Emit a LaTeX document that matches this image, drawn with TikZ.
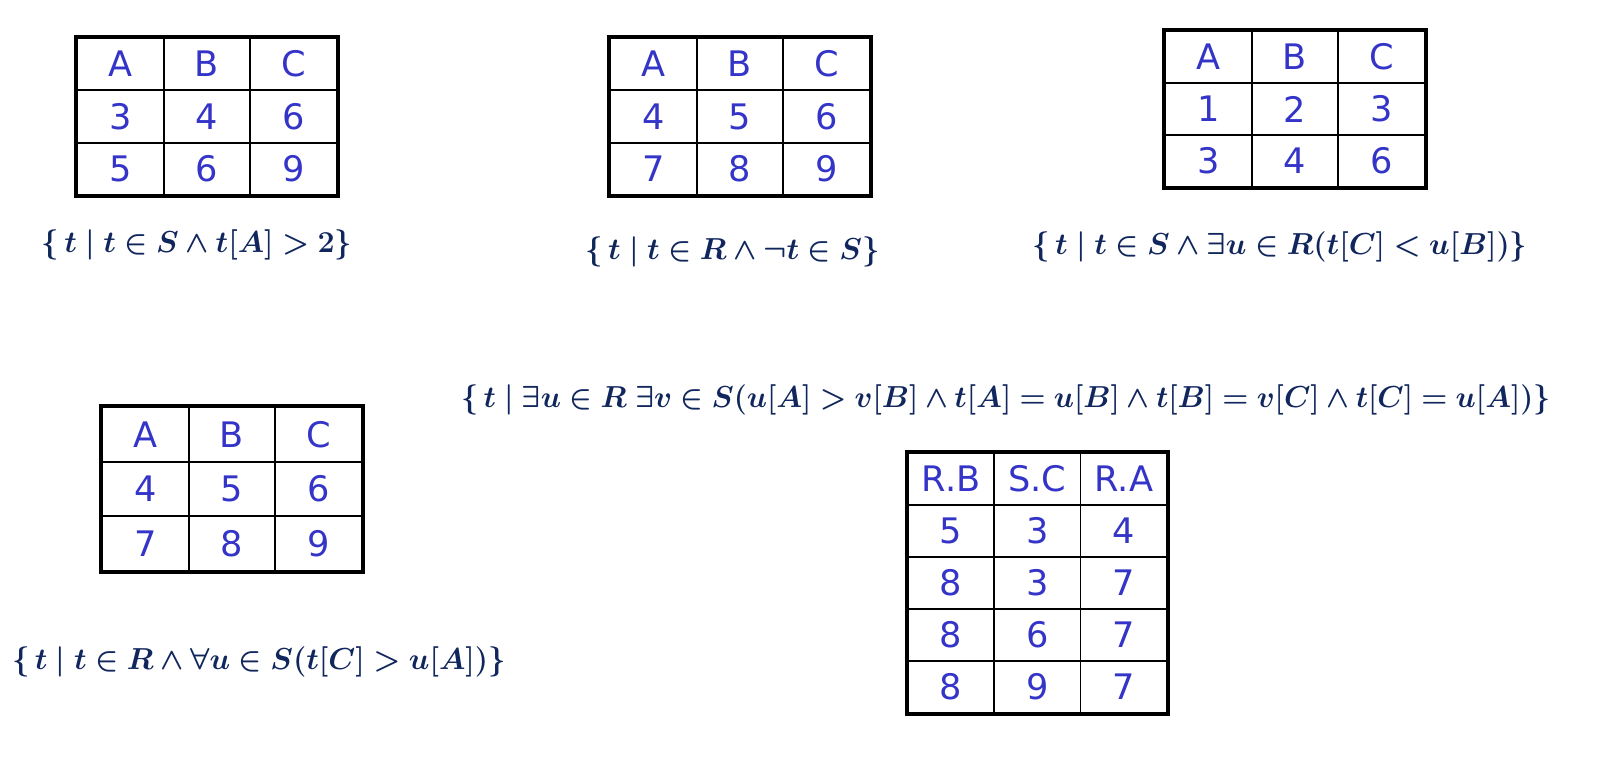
\documentclass[tikz,border=0pt]{standalone}
\usepackage{amsmath}
\usepackage{bm}
\usepackage{graphicx}
\usepackage{fontspec}
\setsansfont{DejaVu Sans}
\begin{document}
\begin{tikzpicture}[font=\sffamily]

\definecolor{cell_fill}{RGB}{255,255,255}
\definecolor{cell_text}{RGB}{52,52,200}
\definecolor{cell_draw}{RGB}{0,0,0}
\tikzstyle{cell_style}=[rectangle,draw=cell_draw,fill=cell_fill,text=cell_text,line width = 1pt,inner sep=0pt,minimum width=1.733cm,font=\sffamily\fontsize{20}{24}\selectfont]
\tikzstyle{row_std}=[minimum height=1.047cm]
\tikzstyle{row_low}=[minimum height=1.04cm]
\tikzstyle{row_tall}=[minimum height=1.093cm]
\tikzstyle{border_style}=[draw=cell_draw,line width = 2.2pt]

\definecolor{formula_text}{RGB}{16,38,92}
\tikzstyle{formula_style}=[text=formula_text,inner sep=0pt,font=\fontsize{16.5}{20}\selectfont]

\useasboundingbox (0,0) rectangle (32.44,-15.24);

% S where A > 2
\node(q1_a) at (2.407,-1.283) [cell_style,row_std] {A};
\node(q1_b) at (4.140,-1.283) [cell_style,row_std] {B};
\node(q1_c) at (5.873,-1.283) [cell_style,row_std] {C};
\node(q1_11) at (2.407,-2.330) [cell_style,row_std] {3};
\node(q1_12) at (4.140,-2.330) [cell_style,row_std] {4};
\node(q1_13) at (5.873,-2.330) [cell_style,row_std] {6};
\node(q1_21) at (2.407,-3.377) [cell_style,row_std] {5};
\node(q1_22) at (4.140,-3.377) [cell_style,row_std] {6};
\node(q1_23) at (5.873,-3.377) [cell_style,row_std] {9};
\draw[border_style](q1_a.north west) rectangle (q1_23.south east);
\node(q1_f) at (3.94,-4.90) [formula_style] {$\bm{\{\,t \mid t \in S \wedge t[A] > 2\}}$};

% R minus S
\node(q2_a) at (13.067,-1.283) [cell_style,row_std] {A};
\node(q2_b) at (14.800,-1.283) [cell_style,row_std] {B};
\node(q2_c) at (16.533,-1.283) [cell_style,row_std] {C};
\node(q2_11) at (13.067,-2.330) [cell_style,row_std] {4};
\node(q2_12) at (14.800,-2.330) [cell_style,row_std] {5};
\node(q2_13) at (16.533,-2.330) [cell_style,row_std] {6};
\node(q2_21) at (13.067,-3.377) [cell_style,row_std] {7};
\node(q2_22) at (14.800,-3.377) [cell_style,row_std] {8};
\node(q2_23) at (16.533,-3.377) [cell_style,row_std] {9};
\draw[border_style](q2_a.north west) rectangle (q2_23.south east);
\node(q2_f) at (14.65,-5.04) [formula_style] {$\bm{\{\,t \mid t \in R \wedge \neg t \in S\}}$};

% S with some u in R
\node(q3_a) at (24.167,-1.140) [cell_style,row_low] {A};
\node(q3_b) at (25.900,-1.140) [cell_style,row_low] {B};
\node(q3_c) at (27.633,-1.140) [cell_style,row_low] {C};
\node(q3_11) at (24.167,-2.180) [cell_style,row_low] {1};
\node(q3_12) at (25.900,-2.180) [cell_style,row_low] {2};
\node(q3_13) at (27.633,-2.180) [cell_style,row_low] {3};
\node(q3_21) at (24.167,-3.220) [cell_style,row_low] {3};
\node(q3_22) at (25.900,-3.220) [cell_style,row_low] {4};
\node(q3_23) at (27.633,-3.220) [cell_style,row_low] {6};
\draw[border_style](q3_a.north west) rectangle (q3_23.south east);
\node(q3_f) at (25.60,-4.94) [formula_style] {$\bm{\{\,t \mid t \in S \wedge \exists u \in R(t[C] < u[B])\}}$};

% R with all u in S
\node(q4_a) at (2.907,-8.687) [cell_style,row_tall] {A};
\node(q4_b) at (4.640,-8.687) [cell_style,row_tall] {B};
\node(q4_c) at (6.373,-8.687) [cell_style,row_tall] {C};
\node(q4_11) at (2.907,-9.780) [cell_style,row_tall] {4};
\node(q4_12) at (4.640,-9.780) [cell_style,row_tall] {5};
\node(q4_13) at (6.373,-9.780) [cell_style,row_tall] {6};
\node(q4_21) at (2.907,-10.873) [cell_style,row_tall] {7};
\node(q4_22) at (4.640,-10.873) [cell_style,row_tall] {8};
\node(q4_23) at (6.373,-10.873) [cell_style,row_tall] {9};
\draw[border_style](q4_a.north west) rectangle (q4_23.south east);
\node(q4_f) at (5.18,-13.24) [formula_style] {$\bm{\{\,t \mid t \in R \wedge \forall u \in S(t[C] > u[A])\}}$};

% join of R and S
\node(jn_f) at (20.12,-8.00) [formula_style] {\scalebox{0.98}[1]{$\bm{\{\,t \mid \exists u \in R\ \exists v \in S(u[A] > v[B] \wedge t[A] = u[B] \wedge t[B] = v[C] \wedge t[C] = u[A])\}}$}};
\node(jn_a) at (19.023,-9.580) [cell_style,row_low] {R.B};
\node(jn_b) at (20.750,-9.580) [cell_style,row_low] {S.C};
\node(jn_c) at (22.477,-9.580) [cell_style,row_low] {R.A};
\node(jn_11) at (19.023,-10.620) [cell_style,row_low] {5};
\node(jn_12) at (20.750,-10.620) [cell_style,row_low] {3};
\node(jn_13) at (22.477,-10.620) [cell_style,row_low] {4};
\node(jn_21) at (19.023,-11.660) [cell_style,row_low] {8};
\node(jn_22) at (20.750,-11.660) [cell_style,row_low] {3};
\node(jn_23) at (22.477,-11.660) [cell_style,row_low] {7};
\node(jn_31) at (19.023,-12.700) [cell_style,row_low] {8};
\node(jn_32) at (20.750,-12.700) [cell_style,row_low] {6};
\node(jn_33) at (22.477,-12.700) [cell_style,row_low] {7};
\node(jn_41) at (19.023,-13.740) [cell_style,row_low] {8};
\node(jn_42) at (20.750,-13.740) [cell_style,row_low] {9};
\node(jn_43) at (22.477,-13.740) [cell_style,row_low] {7};
\draw[border_style](jn_a.north west) rectangle (jn_43.south east);

\end{tikzpicture}
\end{document}
